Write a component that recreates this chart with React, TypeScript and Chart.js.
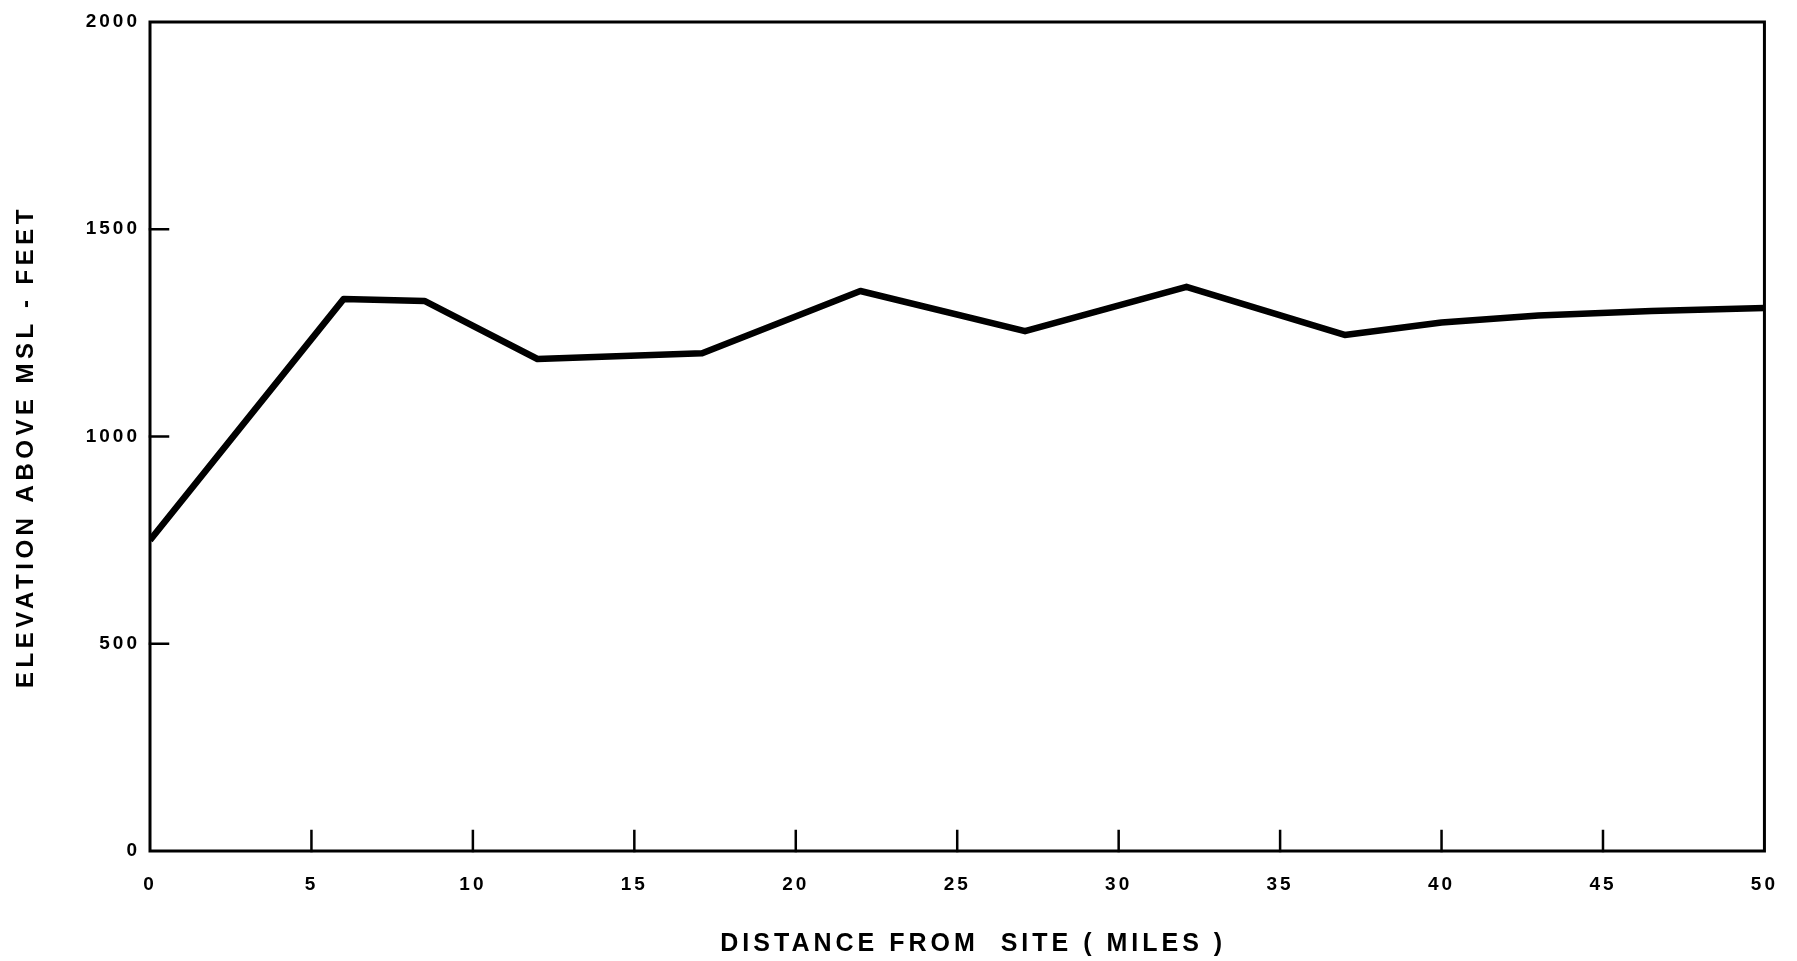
import React, { useEffect, useRef } from "react";
import { Chart, registerables } from "chart.js";

Chart.register(...registerables);

const distanceMiles = [0, 6, 8.5, 12, 17.1, 22, 27.1, 32.1, 37, 40, 43, 46.5, 50];
const elevationFeet = [750, 1332, 1327, 1187, 1201, 1351, 1254, 1361, 1245, 1275, 1292, 1303, 1310];
const xTicks = [0, 5, 10, 15, 20, 25, 30, 35, 40, 45, 50];
const yTicks = [0, 500, 1000, 1500, 2000];
const xTitle = "DISTANCE FROM  SITE ( MILES )";
const yTitle = "ELEVATION ABOVE MSL - FEET";

const FONT = "'Liberation Sans', Arial, sans-serif";

const titleStyle: Record<string, { spacing: string; dx: number; dy: number }> = {
  x: { spacing: "4px", dx: 16, dy: 0 },
  y: { spacing: "4.5px", dx: 0, dy: 10 },
};

const framePlugin = {
  id: "frame",
  afterLayout(chart: any) {
    for (const id of ["x", "y"]) {
      const sc = chart.scales[id];
      if (!sc || sc.__patched) continue;
      const orig = sc.drawTitle;
      sc.drawTitle = function (...args: any[]) {
        const ctx = this.ctx as any;
        const st = titleStyle[id];
        ctx.save();
        ctx.letterSpacing = st.spacing;
        ctx.translate(st.dx, st.dy);
        orig.apply(this, args);
        ctx.restore();
      };
      sc.__patched = true;
    }
  },
  beforeDraw(chart: any) {
    (chart.ctx as any).letterSpacing = "3px";
  },
  afterDraw(chart: any) {
    const { ctx, chartArea } = chart;
    const xs = chart.scales.x;
    const ys = chart.scales.y;
    ctx.save();
    ctx.strokeStyle = "#000";
    ctx.lineWidth = 3;
    ctx.lineCap = "square";
    ctx.strokeRect(chartArea.left, chartArea.top, chartArea.right - chartArea.left, chartArea.bottom - chartArea.top);
    ctx.lineWidth = 2.5;
    ctx.beginPath();
    for (const v of xTicks) {
      if (v === xTicks[0] || v === xTicks[xTicks.length - 1]) continue;
      const px = xs.getPixelForValue(v);
      ctx.moveTo(px, chartArea.bottom);
      ctx.lineTo(px, chartArea.bottom - 20);
    }
    for (const v of yTicks) {
      if (v === yTicks[0] || v === yTicks[yTicks.length - 1]) continue;
      const py = ys.getPixelForValue(v);
      ctx.moveTo(chartArea.left, py);
      ctx.lineTo(chartArea.left + 18, py);
    }
    ctx.stroke();
    ctx.restore();
  },
};

export default function App() {
  const ref = useRef<HTMLCanvasElement | null>(null);
  useEffect(() => {
    if (!ref.current) return;
    const chart = new Chart(ref.current, {
      type: "line",
      data: {
        datasets: [
          {
            data: distanceMiles.map((x, i) => ({ x, y: elevationFeet[i] })),
            borderColor: "#000",
            borderWidth: 6.5,
            pointRadius: 0,
            tension: 0,
            borderJoinStyle: "round",
            fill: false,
          },
        ],
      },
      options: {
        animation: false,
        responsive: true,
        maintainAspectRatio: false,
        layout: { padding: { top: 22, right: 22, left: 0, bottom: 0 } },
        plugins: { legend: { display: false }, tooltip: { enabled: false } },
        scales: {
          x: {
            type: "linear",
            min: 0,
            max: 50,
            afterBuildTicks: (axis: any) => {
              axis.ticks = xTicks.map((v) => ({ value: v }));
            },
            afterFit: (axis: any) => {
              axis.height = 110;
            },
            grid: { display: false, drawTicks: false },
            border: { display: false },
            ticks: {
              color: "#000",
              padding: 22,
              maxRotation: 0,
              callback: (v: any) => String(v),
              font: { family: FONT, size: 19, weight: "bold" },
            },
            title: {
              display: true,
              text: xTitle,
              color: "#000",
              font: { family: FONT, size: 25, weight: "bold" },
              padding: { top: 0, bottom: 2 },
            },
          },
          y: {
            type: "linear",
            min: 0,
            max: 2000,
            afterBuildTicks: (axis: any) => {
              axis.ticks = yTicks.map((v) => ({ value: v }));
            },
            afterFit: (axis: any) => {
              axis.width = 150;
            },
            grid: { display: false, drawTicks: false },
            border: { display: false },
            ticks: {
              color: "#000",
              padding: 10,
              callback: (v: any) => String(v),
              font: { family: FONT, size: 19, weight: "bold" },
            },
            title: {
              display: true,
              text: yTitle,
              color: "#000",
              font: { family: FONT, size: 24, weight: "bold" },
              padding: { top: 12, bottom: 0 },
            },
          },
        },
      },
      plugins: [framePlugin],
    } as any);
    return () => chart.destroy();
  }, []);
  return (
    <div style={{ position: "fixed", left: 0, top: 0, width: 1797, height: 961, background: "#fff" }}>
      <canvas ref={ref} />
    </div>
  );
}
